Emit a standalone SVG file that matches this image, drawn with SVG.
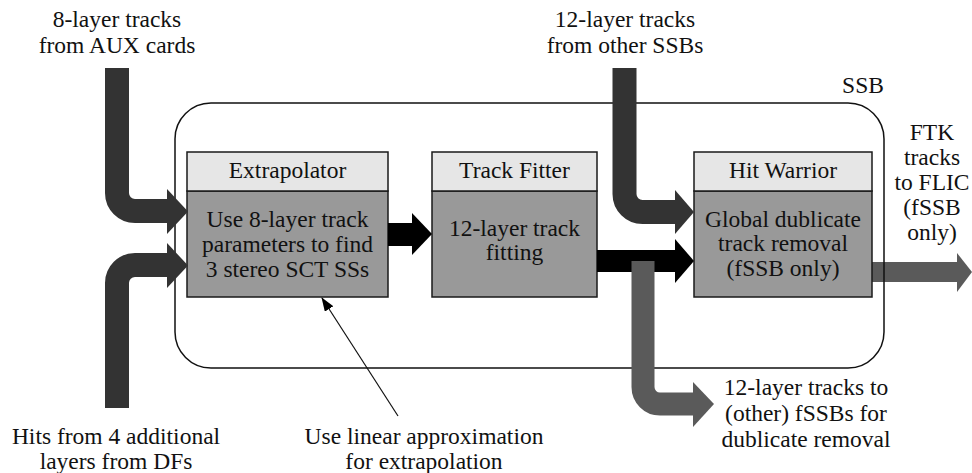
<svg xmlns="http://www.w3.org/2000/svg" width="972" height="473" viewBox="0 0 972 473">
<defs>
<style>
text{font-family:'Liberation Serif','Times New Roman',serif;font-size:23.5px;fill:#111;text-anchor:middle}
.hdr{fill:#e6e6e6;stroke:#1a1a1a;stroke-width:1.5}
.body{fill:#999999;stroke:#1a1a1a;stroke-width:1.5}
.dark{fill:none;stroke:#333333;stroke-width:24}
.darkh{fill:#333333}
.grey{fill:none;stroke:#5a5a5a;stroke-width:23}
.greyh{fill:#5a5a5a}
.blk{fill:#000}
</style>
<marker id="ah" markerWidth="14" markerHeight="10" refX="13" refY="5" orient="auto" markerUnits="userSpaceOnUse">
<path d="M0,0 L14,5 L0,10 Z" fill="#000"/>
</marker>
</defs>
<rect width="972" height="473" fill="#fff"/>

<g id="output-arrow">
<rect x="872" y="262" width="86" height="20" class="greyh"/>
<polygon points="957,253 972,272 957,292" class="greyh"/>
</g>

<g id="ssb">
<rect x="175" y="103" width="709" height="265" rx="36" ry="36" fill="none" stroke="#111" stroke-width="1.5"/>
<text x="863" y="93">SSB</text>
</g>

<g id="extrapolator">
<rect x="187" y="191" width="201" height="106" class="body"/>
<rect x="187" y="152" width="201" height="39" class="hdr"/>
<text x="287.5" y="178">Extrapolator</text>
<text x="287.5" y="227">Use 8-layer track</text>
<text x="287.5" y="252">parameters to find</text>
<text x="287.5" y="277">3 stereo SCT SSs</text>
</g>

<g id="track-fitter">
<rect x="432" y="191" width="165" height="106" class="body"/>
<rect x="432" y="152" width="165" height="39" class="hdr"/>
<text x="514.5" y="178">Track Fitter</text>
<text x="514.5" y="236">12-layer track</text>
<text x="514.5" y="260">fitting</text>
</g>

<g id="hit-warrior">
<rect x="694" y="191" width="178" height="106" class="body"/>
<rect x="694" y="152" width="178" height="39" class="hdr"/>
<text x="783" y="178">Hit Warrior</text>
<text x="783" y="227">Global dublicate</text>
<text x="783" y="251">track removal</text>
<text x="783" y="276">(fSSB only)</text>
</g>

<g id="connectors">
<path class="dark" d="M117,68 V193 A18,18 0 0 0 135,211 H168"/>
<polygon class="darkh" points="167,189 188,211.5 167,234"/>
<path class="dark" d="M117,408 V283 A18,18 0 0 1 135,265 H168"/>
<polygon class="darkh" points="167,243 188,265.5 167,288"/>
<path class="dark" d="M624.5,68 V194 A18,18 0 0 0 642.5,212 H676"/>
<polygon class="darkh" points="675,190 694,212 675,234"/>
<rect x="388" y="223" width="25" height="23" class="blk"/>
<polygon class="blk" points="412,213 432,234 412,255"/>
<rect x="597" y="250" width="79" height="22" class="blk"/>
<polygon class="blk" points="675,239 694,261 675,283"/>
<path class="grey" d="M643,261 V387 A17,17 0 0 0 660,404 H694"/>
<polygon class="greyh" points="693,382 714,404 693,427"/>
<line x1="398" y1="416" x2="322" y2="298" stroke="#111" stroke-width="1.2" marker-end="url(#ah)"/>
</g>

<g id="labels">
<text x="117" y="27">8-layer tracks</text>
<text x="117" y="53">from AUX cards</text>
<text x="625" y="27">12-layer tracks</text>
<text x="625" y="53">from other SSBs</text>
<text x="932" y="140">FTK</text>
<text x="932" y="165">tracks</text>
<text x="932" y="190">to FLIC</text>
<text x="932" y="215">(fSSB</text>
<text x="932" y="240">only)</text>
<text x="116" y="444">Hits from 4 additional</text>
<text x="116" y="469">layers from DFs</text>
<text x="424" y="444">Use linear approximation</text>
<text x="424" y="469">for extrapolation</text>
<text x="806" y="395">12-layer tracks to</text>
<text x="806" y="421">(other) fSSBs for</text>
<text x="806" y="447">dublicate removal</text>
</g>
</svg>
